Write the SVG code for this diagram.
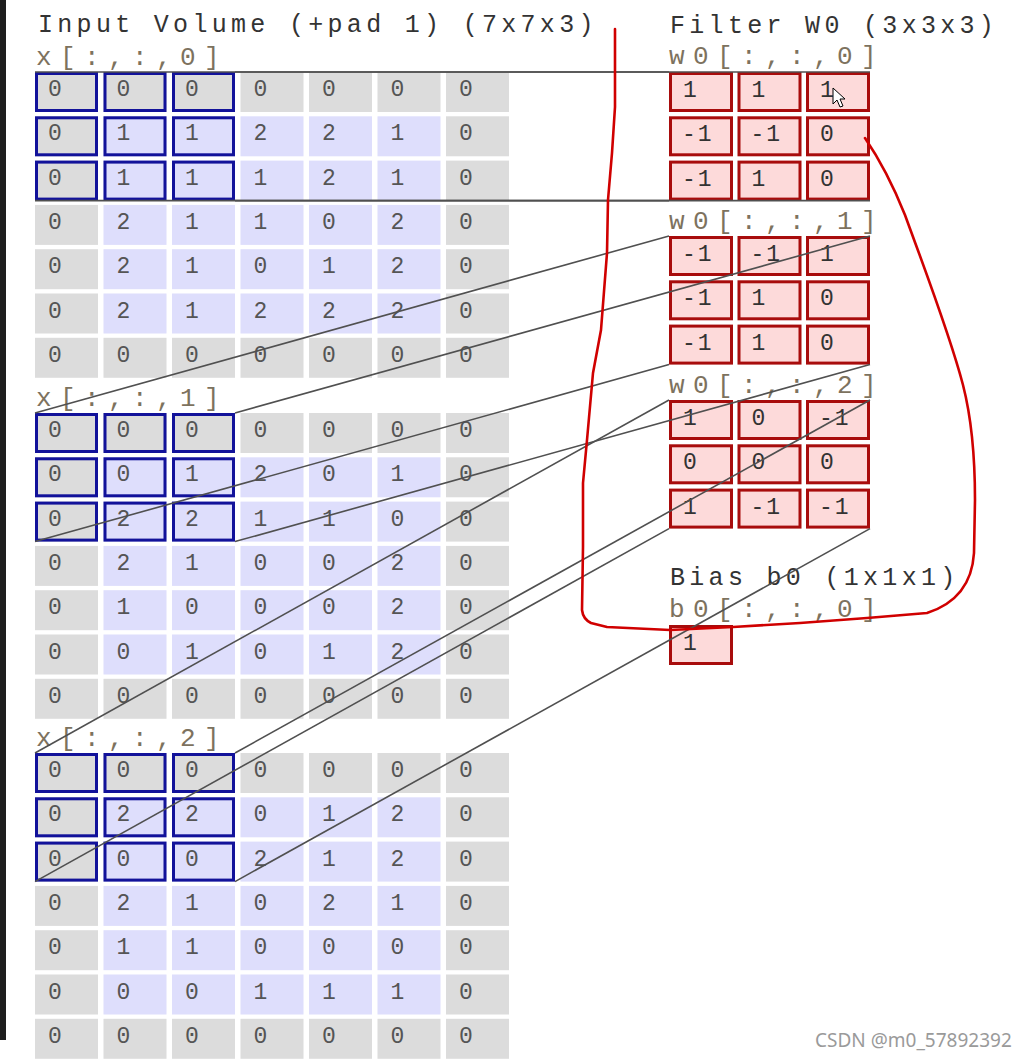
<svg xmlns="http://www.w3.org/2000/svg" xmlns:xlink="http://www.w3.org/1999/xlink" width="1026" height="1061" viewBox="0 0 1026 1061">
<style>
.pad{fill:#dcdcdc}
.inr{fill:#dedefc}
.hl{fill:none;stroke:#12129a;stroke-width:3}
.fc{fill:#fddada;stroke:#a80c0c;stroke-width:3}
.d{font-family:"Liberation Mono","Courier New",monospace;font-size:23px;fill:#555}
.fd{font-family:"Liberation Mono","Courier New",monospace;font-size:23px;fill:#333;letter-spacing:2px}
.title{font-family:"Liberation Mono","Courier New",monospace;font-size:25px;fill:#333;letter-spacing:4.3px}
.lab{font-family:"Liberation Mono","Courier New",monospace;font-size:26px;fill:#7d725e;letter-spacing:8.4px}
.con{stroke:#505050;stroke-width:1.6;fill:none}
.red{stroke:#d00000;stroke-width:2.6;fill:none;stroke-linejoin:round;stroke-linecap:round}
</style>
<defs>
<rect id="p" class="pad" width="63" height="40"/>
<rect id="i" class="inr" width="63" height="40"/>
<g id="hlbox">
<rect class="hl" x="1.5" y="1.5" width="60" height="37"/>
<rect class="hl" x="70" y="1.5" width="60" height="37"/>
<rect class="hl" x="138.5" y="1.5" width="60" height="37"/>
<rect class="hl" x="1.5" y="45.8" width="60" height="37"/>
<rect class="hl" x="70" y="45.8" width="60" height="37"/>
<rect class="hl" x="138.5" y="45.8" width="60" height="37"/>
<rect class="hl" x="1.5" y="90.1" width="60" height="37"/>
<rect class="hl" x="70" y="90.1" width="60" height="37"/>
<rect class="hl" x="138.5" y="90.1" width="60" height="37"/>
</g>
<g id="prow"><use href="#p" x="35"/><use href="#p" x="103.5"/><use href="#p" x="172"/><use href="#p" x="240.5"/><use href="#p" x="309"/><use href="#p" x="377.5"/><use href="#p" x="446"/></g>
<g id="irow"><use href="#p" x="35"/><use href="#i" x="103.5"/><use href="#i" x="172"/><use href="#i" x="240.5"/><use href="#i" x="309"/><use href="#i" x="377.5"/><use href="#p" x="446"/></g>
<g id="fcells">
<rect class="fc" x="1.5" y="1.5" width="61" height="37"/><rect class="fc" x="70" y="1.5" width="61" height="37"/><rect class="fc" x="138.5" y="1.5" width="61" height="37"/>
<rect class="fc" x="1.5" y="45.8" width="61" height="37"/><rect class="fc" x="70" y="45.8" width="61" height="37"/><rect class="fc" x="138.5" y="45.8" width="61" height="37"/>
<rect class="fc" x="1.5" y="90.1" width="61" height="37"/><rect class="fc" x="70" y="90.1" width="61" height="37"/><rect class="fc" x="138.5" y="90.1" width="61" height="37"/>
</g>
</defs>
<rect width="1026" height="1061" fill="#ffffff"/>
<rect x="0" y="0" width="6" height="1040" fill="#1e1e1e"/>

<g id="titles">
<text class="title" x="38" y="32">Input Volume (+pad 1) (7x7x3)</text>
<text class="title" x="670" y="33">Filter W0 (3x3x3)</text>
<text class="title" x="670" y="585">Bias b0 (1x1x1)</text>
</g>

<g id="x0">
<text class="lab" x="36" y="65">x[:,:,0]</text>
<g transform="translate(0,72)">
<g><use href="#prow"/><text class="d" x="48" y="24">0</text><text class="d" x="116.5" y="24">0</text><text class="d" x="185" y="24">0</text><text class="d" x="253.5" y="24">0</text><text class="d" x="322" y="24">0</text><text class="d" x="390.5" y="24">0</text><text class="d" x="459" y="24">0</text></g>
<g transform="translate(0,44.3)"><use href="#irow"/><text class="d" x="48" y="24">0</text><text class="d" x="116.5" y="24">1</text><text class="d" x="185" y="24">1</text><text class="d" x="253.5" y="24">2</text><text class="d" x="322" y="24">2</text><text class="d" x="390.5" y="24">1</text><text class="d" x="459" y="24">0</text></g>
<g transform="translate(0,88.6)"><use href="#irow"/><text class="d" x="48" y="24">0</text><text class="d" x="116.5" y="24">1</text><text class="d" x="185" y="24">1</text><text class="d" x="253.5" y="24">1</text><text class="d" x="322" y="24">2</text><text class="d" x="390.5" y="24">1</text><text class="d" x="459" y="24">0</text></g>
<g transform="translate(0,132.9)"><use href="#irow"/><text class="d" x="48" y="24">0</text><text class="d" x="116.5" y="24">2</text><text class="d" x="185" y="24">1</text><text class="d" x="253.5" y="24">1</text><text class="d" x="322" y="24">0</text><text class="d" x="390.5" y="24">2</text><text class="d" x="459" y="24">0</text></g>
<g transform="translate(0,177.2)"><use href="#irow"/><text class="d" x="48" y="24">0</text><text class="d" x="116.5" y="24">2</text><text class="d" x="185" y="24">1</text><text class="d" x="253.5" y="24">0</text><text class="d" x="322" y="24">1</text><text class="d" x="390.5" y="24">2</text><text class="d" x="459" y="24">0</text></g>
<g transform="translate(0,221.5)"><use href="#irow"/><text class="d" x="48" y="24">0</text><text class="d" x="116.5" y="24">2</text><text class="d" x="185" y="24">1</text><text class="d" x="253.5" y="24">2</text><text class="d" x="322" y="24">2</text><text class="d" x="390.5" y="24">2</text><text class="d" x="459" y="24">0</text></g>
<g transform="translate(0,265.8)"><use href="#prow"/><text class="d" x="48" y="24">0</text><text class="d" x="116.5" y="24">0</text><text class="d" x="185" y="24">0</text><text class="d" x="253.5" y="24">0</text><text class="d" x="322" y="24">0</text><text class="d" x="390.5" y="24">0</text><text class="d" x="459" y="24">0</text></g>
<use href="#hlbox" x="35"/>
</g>
</g>

<g id="x1">
<text class="lab" x="36" y="406">x[:,:,1]</text>
<g transform="translate(0,413)">
<g><use href="#prow"/><text class="d" x="48" y="24">0</text><text class="d" x="116.5" y="24">0</text><text class="d" x="185" y="24">0</text><text class="d" x="253.5" y="24">0</text><text class="d" x="322" y="24">0</text><text class="d" x="390.5" y="24">0</text><text class="d" x="459" y="24">0</text></g>
<g transform="translate(0,44.3)"><use href="#irow"/><text class="d" x="48" y="24">0</text><text class="d" x="116.5" y="24">0</text><text class="d" x="185" y="24">1</text><text class="d" x="253.5" y="24">2</text><text class="d" x="322" y="24">0</text><text class="d" x="390.5" y="24">1</text><text class="d" x="459" y="24">0</text></g>
<g transform="translate(0,88.6)"><use href="#irow"/><text class="d" x="48" y="24">0</text><text class="d" x="116.5" y="24">2</text><text class="d" x="185" y="24">2</text><text class="d" x="253.5" y="24">1</text><text class="d" x="322" y="24">1</text><text class="d" x="390.5" y="24">0</text><text class="d" x="459" y="24">0</text></g>
<g transform="translate(0,132.9)"><use href="#irow"/><text class="d" x="48" y="24">0</text><text class="d" x="116.5" y="24">2</text><text class="d" x="185" y="24">1</text><text class="d" x="253.5" y="24">0</text><text class="d" x="322" y="24">0</text><text class="d" x="390.5" y="24">2</text><text class="d" x="459" y="24">0</text></g>
<g transform="translate(0,177.2)"><use href="#irow"/><text class="d" x="48" y="24">0</text><text class="d" x="116.5" y="24">1</text><text class="d" x="185" y="24">0</text><text class="d" x="253.5" y="24">0</text><text class="d" x="322" y="24">0</text><text class="d" x="390.5" y="24">2</text><text class="d" x="459" y="24">0</text></g>
<g transform="translate(0,221.5)"><use href="#irow"/><text class="d" x="48" y="24">0</text><text class="d" x="116.5" y="24">0</text><text class="d" x="185" y="24">1</text><text class="d" x="253.5" y="24">0</text><text class="d" x="322" y="24">1</text><text class="d" x="390.5" y="24">2</text><text class="d" x="459" y="24">0</text></g>
<g transform="translate(0,265.8)"><use href="#prow"/><text class="d" x="48" y="24">0</text><text class="d" x="116.5" y="24">0</text><text class="d" x="185" y="24">0</text><text class="d" x="253.5" y="24">0</text><text class="d" x="322" y="24">0</text><text class="d" x="390.5" y="24">0</text><text class="d" x="459" y="24">0</text></g>
<use href="#hlbox" x="35"/>
</g>
</g>

<g id="x2">
<text class="lab" x="36" y="746">x[:,:,2]</text>
<g transform="translate(0,753)">
<g><use href="#prow"/><text class="d" x="48" y="24">0</text><text class="d" x="116.5" y="24">0</text><text class="d" x="185" y="24">0</text><text class="d" x="253.5" y="24">0</text><text class="d" x="322" y="24">0</text><text class="d" x="390.5" y="24">0</text><text class="d" x="459" y="24">0</text></g>
<g transform="translate(0,44.3)"><use href="#irow"/><text class="d" x="48" y="24">0</text><text class="d" x="116.5" y="24">2</text><text class="d" x="185" y="24">2</text><text class="d" x="253.5" y="24">0</text><text class="d" x="322" y="24">1</text><text class="d" x="390.5" y="24">2</text><text class="d" x="459" y="24">0</text></g>
<g transform="translate(0,88.6)"><use href="#irow"/><text class="d" x="48" y="24">0</text><text class="d" x="116.5" y="24">0</text><text class="d" x="185" y="24">0</text><text class="d" x="253.5" y="24">2</text><text class="d" x="322" y="24">1</text><text class="d" x="390.5" y="24">2</text><text class="d" x="459" y="24">0</text></g>
<g transform="translate(0,132.9)"><use href="#irow"/><text class="d" x="48" y="24">0</text><text class="d" x="116.5" y="24">2</text><text class="d" x="185" y="24">1</text><text class="d" x="253.5" y="24">0</text><text class="d" x="322" y="24">2</text><text class="d" x="390.5" y="24">1</text><text class="d" x="459" y="24">0</text></g>
<g transform="translate(0,177.2)"><use href="#irow"/><text class="d" x="48" y="24">0</text><text class="d" x="116.5" y="24">1</text><text class="d" x="185" y="24">1</text><text class="d" x="253.5" y="24">0</text><text class="d" x="322" y="24">0</text><text class="d" x="390.5" y="24">0</text><text class="d" x="459" y="24">0</text></g>
<g transform="translate(0,221.5)"><use href="#irow"/><text class="d" x="48" y="24">0</text><text class="d" x="116.5" y="24">0</text><text class="d" x="185" y="24">0</text><text class="d" x="253.5" y="24">1</text><text class="d" x="322" y="24">1</text><text class="d" x="390.5" y="24">1</text><text class="d" x="459" y="24">0</text></g>
<g transform="translate(0,265.8)"><use href="#prow"/><text class="d" x="48" y="24">0</text><text class="d" x="116.5" y="24">0</text><text class="d" x="185" y="24">0</text><text class="d" x="253.5" y="24">0</text><text class="d" x="322" y="24">0</text><text class="d" x="390.5" y="24">0</text><text class="d" x="459" y="24">0</text></g>
<use href="#hlbox" x="35"/>
</g>
</g>

<g id="w0_0">
<text class="lab" x="669" y="64">w0[:,:,0]</text>
<g transform="translate(669,72)">
<use href="#fcells"/>
<text class="fd" x="14" y="25">1</text><text class="fd" x="82.5" y="25">1</text><text class="fd" x="151" y="25">1</text>
<text class="fd" x="13" y="69.3">-1</text><text class="fd" x="81.5" y="69.3">-1</text><text class="fd" x="151" y="69.3">0</text>
<text class="fd" x="13" y="113.6">-1</text><text class="fd" x="82.5" y="113.6">1</text><text class="fd" x="151" y="113.6">0</text>
</g>
</g>

<g id="w0_1">
<text class="lab" x="669" y="229">w0[:,:,1]</text>
<g transform="translate(669,236)">
<use href="#fcells"/>
<text class="fd" x="13" y="25">-1</text><text class="fd" x="81.5" y="25">-1</text><text class="fd" x="151" y="25">1</text>
<text class="fd" x="13" y="69.3">-1</text><text class="fd" x="82.5" y="69.3">1</text><text class="fd" x="151" y="69.3">0</text>
<text class="fd" x="13" y="113.6">-1</text><text class="fd" x="82.5" y="113.6">1</text><text class="fd" x="151" y="113.6">0</text>
</g>
</g>

<g id="w0_2">
<text class="lab" x="669" y="393">w0[:,:,2]</text>
<g transform="translate(669,400)">
<use href="#fcells"/>
<text class="fd" x="14" y="25">1</text><text class="fd" x="82.5" y="25">0</text><text class="fd" x="150" y="25">-1</text>
<text class="fd" x="14" y="69.3">0</text><text class="fd" x="82.5" y="69.3">0</text><text class="fd" x="151" y="69.3">0</text>
<text class="fd" x="14" y="113.6">1</text><text class="fd" x="81.5" y="113.6">-1</text><text class="fd" x="150" y="113.6">-1</text>
</g>
</g>

<g id="b0">
<text class="lab" x="669" y="617">b0[:,:,0]</text>
<rect class="fc" x="670.5" y="626.5" width="61" height="37"/>
<text class="fd" x="683" y="650">1</text>
</g>

<g id="connectors">
<line class="con" x1="35" y1="72" x2="669" y2="72"/>
<line class="con" x1="235" y1="72" x2="870" y2="72"/>
<line class="con" x1="35" y1="200.6" x2="669" y2="200.6"/>
<line class="con" x1="235" y1="200.6" x2="870" y2="200.6"/>
<line class="con" x1="35" y1="413" x2="669" y2="236"/>
<line class="con" x1="235" y1="413" x2="870" y2="236"/>
<line class="con" x1="35" y1="541.6" x2="669" y2="364.6"/>
<line class="con" x1="235" y1="541.6" x2="870" y2="364.6"/>
<line class="con" x1="35" y1="753" x2="669" y2="400"/>
<line class="con" x1="235" y1="753" x2="870" y2="400"/>
<line class="con" x1="35" y1="881.6" x2="669" y2="528.6"/>
<line class="con" x1="235" y1="881.6" x2="870" y2="528.6"/>
</g>

<path class="red" d="M615,29 L615,107 L612,153 L608,200 L607,253 L601,330 L593,373 L587,440 L583,483 L583,547 L582,610 Q583,619 591,623 L607,627 L670,630 L733,627 L800,623 L867,618 L927,613 C955,604 972,585 974,553 L975,500 C975,460 972,420 963,385 C950,335 925,270 905,215 C895,190 880,160 865,138"/>

<polygon points="833,88 833,104 837,100 840,107 843,106 840,99 845,99" fill="#ffffff" stroke="#000000" stroke-width="1"/>

<text x="815" y="1047" font-family="'Noto Sans','Liberation Sans',sans-serif" font-size="19" fill="#9a9a9a">CSDN @m0_57892392</text>
</svg>
